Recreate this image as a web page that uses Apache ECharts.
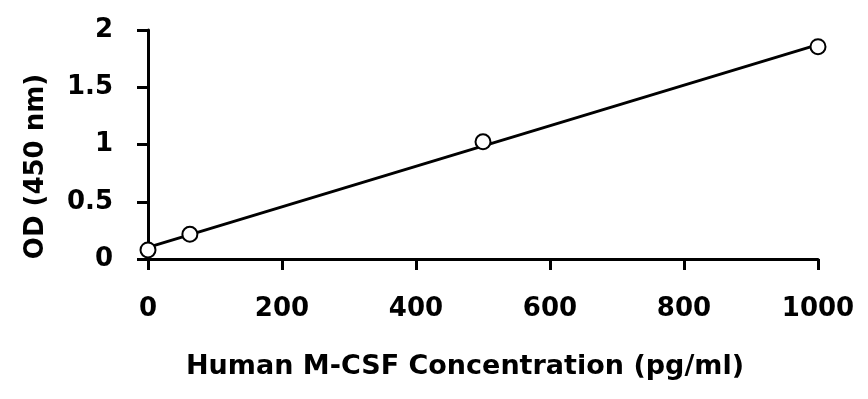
<!DOCTYPE html>
<html>
<head>
<meta charset="utf-8">
<script src="https://cdn.jsdelivr.net/npm/echarts@6/dist/echarts.min.js"></script>
<style>html,body{margin:0;padding:0;background:#fff;}#c{width:868px;height:399px;}</style>
</head>
<body>
<div id="c"></div>
<script>
// Data
const concentrations = [0, 62.5, 500, 1000];      // pg/ml
const odValues = [0.079, 0.216, 1.024, 1.854];    // OD at 450 nm
const xTicks = [0, 200, 400, 600, 800, 1000];
const yTicks = [0, 0.5, 1, 1.5, 2];
const xTitle = 'Human M-CSF Concentration (pg/ml)';
const yTitle = 'OD (450 nm)';

// Linear least-squares fit (standard-curve trend line)
const n = concentrations.length;
const mx = concentrations.reduce((a, b) => a + b, 0) / n;
const my = odValues.reduce((a, b) => a + b, 0) / n;
let sxy = 0, sxx = 0;
for (let i = 0; i < n; i++) {
  sxy += (concentrations[i] - mx) * (odValues[i] - my);
  sxx += (concentrations[i] - mx) * (concentrations[i] - mx);
}
const slope = sxy / sxx;
const intercept = my - slope * mx;
const xMin = xTicks[0], xMax = xTicks[xTicks.length - 1];
const fitLine = [[xMin, intercept + slope * xMin], [xMax, intercept + slope * xMax]];

const FONT = 'DejaVu Sans';
const chart = echarts.init(document.getElementById('c'), null, { renderer: 'canvas' });
chart.setOption({
  animation: false,
  backgroundColor: '#ffffff',
  grid: { left: 148, right: 50, top: 30, bottom: 140, containLabel: false },
  xAxis: {
    type: 'value',
    min: xMin, max: xMax, interval: xTicks[1] - xTicks[0],
    name: xTitle,
    nameLocation: 'middle',
    nameGap: 94,
    nameTextStyle: { fontFamily: FONT, fontWeight: 'bold', fontSize: 27, color: '#000', padding: [0, 36, 0, 0] },
    axisLine: { show: true, onZero: false, lineStyle: { color: '#000', width: 3 } },
    axisTick: { show: true, inside: false, length: 11, lineStyle: { color: '#000', width: 3 } },
    axisLabel: { fontFamily: FONT, fontWeight: 'bold', fontSize: 26, color: '#000', margin: 37,
                 formatter: v => String(v) },
    splitLine: { show: false }
  },
  yAxis: {
    type: 'value',
    min: yTicks[0], max: yTicks[yTicks.length - 1], interval: yTicks[1] - yTicks[0],
    name: yTitle,
    nameLocation: 'middle',
    nameRotate: 90,
    nameGap: 99,
    nameTextStyle: { fontFamily: FONT, fontWeight: 'bold', fontSize: 26, color: '#000', padding: [0, 44, 0, 0] },
    axisLine: { show: true, onZero: false, lineStyle: { color: '#000', width: 3 } },
    axisTick: { show: true, inside: false, length: 11, lineStyle: { color: '#000', width: 3 } },
    axisLabel: { fontFamily: FONT, fontWeight: 'bold', fontSize: 26, color: '#000', margin: 35,
                 formatter: v => String(v) },
    splitLine: { show: false }
  },
  series: [
    {
      type: 'line',
      data: fitLine,
      showSymbol: false,
      symbol: 'none',
      lineStyle: { color: '#000', width: 3 },
      z: 2,
      silent: true
    },
    {
      type: 'scatter',
      data: concentrations.map((x, i) => [x, odValues[i]]),
      symbol: 'circle',
      symbolSize: 15,
      itemStyle: { color: '#ffffff', borderColor: '#000', borderWidth: 2, opacity: 1 },
      z: 3
    }
  ]
});
</script>
</body>
</html>
